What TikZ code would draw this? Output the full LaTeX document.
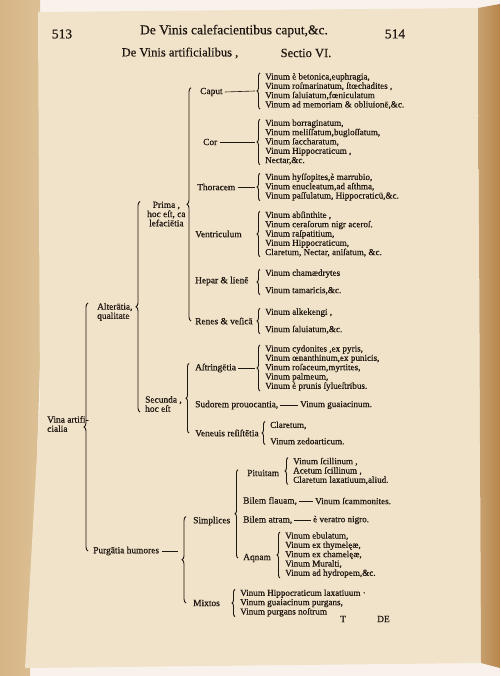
\documentclass[tikz,border=0pt]{standalone}
\usepackage{fontspec}
\setmainfont{Liberation Serif}[FakeBold=0.5]
\usetikzlibrary{decorations.pathreplacing, positioning}

\definecolor{paper}{HTML}{F1E3C9}
\definecolor{leaf}{HTML}{DCC196}
\definecolor{bookedge}{HTML}{B7864C}
\definecolor{ink}{HTML}{1E1610}

\begin{document}
\begin{tikzpicture}[x=1pt, y=-1pt,
  lab/.style={inner sep=0pt, anchor=west, text=ink, font=\fontsize{9.4}{9.2}\selectfont, align=left},
  items/.style={inner sep=0pt, anchor=west, text=ink, font=\fontsize{9.1}{9.3}\selectfont, align=left},
  head/.style={inner sep=0pt, text=ink, font=\fontsize{13.5}{14}\selectfont},
  brc/.style={draw=ink, line width=0.9pt, decorate, decoration={brace, amplitude=3pt}},
  bigbrc/.style={brc, decoration={brace, amplitude=4pt}},
  rule/.style={draw=ink, line width=0.6pt}
]
  % page, book edges
  \useasboundingbox (0,0) rectangle (500,676);
  \fill[white!90!brown] (0,0) rectangle (500,676);
  \shade[left color=leaf!80!brown, right color=leaf] (0,0) -- (40,0) -- (42,300) -- (30,676) -- (0,676) -- cycle;
  \fill[paper] (38,12) -- (478,8) -- (481,663) -- (25,668) -- (40,400) -- cycle;
  \shade[left color=bookedge!70!paper, right color=bookedge] (478,8) -- (500,4) -- (500,668) -- (481,663) -- cycle;

  % heading
  \node[head] (p513) at (62,34) {513};
  \node[head] (runhead) at (234,31) {De Vinis calefacientibus caput,\&c.};
  \node[head] (p514) at (395,34) {514};
  \node[head, font=\fontsize{12.5}{13}\selectfont] (title) at (180,53) {De Vinis artificialibus ,};
  \node[head, font=\fontsize{12.5}{13}\selectfont] (sectio) at (306,53) {Sectio VI.};

  % first divisions
  \node[lab] (vina) at (47,424) {Vina artifi-\\cialia};
  \node[lab] (alter) at (97,312) {Alterātia,\\qualitate};
  \node[lab] (purg) at (93,551) {Purgātia humores};

  \node[lab, align=center] (prima) at (147,214) {Prima ,\\hoc eſt, ca\\lefaciētia};
  \node[lab] (secunda) at (145,404) {Secunda ,\\hoc eſt};
  \node[lab] (simpl) at (193,521) {Simplices};
  \node[lab] (mixtos) at (193,603) {Mixtos};

  % calefacientia
  \node[lab] (caput) at (200,92) {Caput};
  \node[lab] (cor) at (203,142) {Cor};
  \node[lab] (thor) at (197,187) {Thoracem};
  \node[lab] (ventr) at (195,234) {Ventriculum};
  \node[lab] (hepar) at (195,281) {Hepar \& lienē};
  \node[lab] (renes) at (195,321) {Renes \& veſicā};

  \node[items] (caputL) at (265,91) {Vinum è betonica,euphragia,\\Vinum roſmarinatum, ſtœchadites ,\\Vinum ſaluiatum,fœniculatum\\Vinum ad memoriam \& obliuionē,\&c.};
  \node[items] (corL) at (265,142) {Vinum borraginatum,\\Vinum meliſſatum,bugloſſatum,\\Vinum ſaccharatum,\\Vinum Hippocraticum ,\\Nectar,\&c.};
  \node[items] (thorL) at (265,187) {Vinum hyſſopites,è marrubio,\\Vinum enucleatum,ad aſthma,\\Vinum paſſulatum, Hippocraticū,\&c.};
  \node[items] (ventrL) at (265,234) {Vinum abſinthite ,\\Vinum ceraſorum nigr aceroſ.\\Vinum raſpatitium,\\Vinum Hippocraticum,\\Claretum, Nectar, aniſatum, \&c.};
  \node[items] (hepL) at (265,282) {Vinum chamædrytes\\[8pt]Vinum tamaricis,\&c.};
  \node[items] (renesL) at (265,321) {Vinum alkekengi ,\\[8pt]Vinum ſaluiatum,\&c.};

  % secunda
  \node[lab] (astr) at (195,368) {Aſtringētia};
  \node[lab] (sudor) at (195,405) {Sudorem prouocantia,};
  \node[lab] (venen) at (195,433) {Veneuis reſiſtētia};

  \node[items] (astrL) at (265,368) {Vinum cydonites ,ex pyris,\\Vinum œnanthinum,ex punicis,\\Vinum roſaceum,myrtites,\\Vinum palmeum,\\Vinum è prunis ſylueſtribus.};
  \node[items] (sudorL) at (300,405) {Vinum guaiacinum.};
  \node[items] (venenL) at (270,433) {Claretum,\\[7pt]Vinum zedoarticum.};

  % purgantia
  \node[lab] (pituit) at (247,473) {Pituitam};
  \node[lab] (bflav) at (243,501) {Bilem flauam,};
  \node[lab] (batr) at (243,520) {Bilem atram,};
  \node[lab] (aqnam) at (243,558) {Aqnam};

  \node[items] (pituitL) at (293,471) {Vinum ſcillinum ,\\Acetum ſcillinum ,\\Claretum laxatiuum,aliud.};
  \node[items] (bflavL) at (315,501) {Vinum ſcammonites.};
  \node[items] (batrL) at (313,520) {è veratro nigro.};
  \node[items] (aqnamL) at (285,555) {Vinum ebulatum,\\Vinum ex thymelęæ,\\Vinum ex chamelęæ,\\Vinum Muralti,\\Vinum ad hydropem,\&c.};
  \node[items] (mixtL) at (240,603) {Vinum Hippocraticum laxatiuum ·\\Vinum guaiacinum purgans,\\Vinum purgans noſtrum};

  \node[lab] (sig) at (340,619) {T};
  \node[lab] (catch) at (377,619) {DE};

  % braces
  \draw[bigbrc] ([xshift=-5pt]purg.west) -- ([xshift=-5pt]purg.west |- alter.north);
  \draw[bigbrc] ([xshift=-5pt]secunda.south west) -- ([xshift=-5pt]secunda.west |- prima.north);
  \draw[bigbrc] ([xshift=-4pt]renes.west) -- ([xshift=-4pt]renes.west |- caput.north);
  \draw[brc] ([xshift=-6pt]venen.west) -- ([xshift=-6pt]venen.west |- astr.north);
  \draw[bigbrc] ([xshift=-7pt]mixtos.west) -- ([xshift=-7pt]mixtos.west |- simpl.north);
  \draw[brc] ([xshift=-5pt]aqnam.west) -- ([xshift=-5pt]aqnam.west |- pituit.north);

  \foreach \l in {caputL, corL, thorL, ventrL, hepL, renesL, astrL, pituitL, aqnamL, mixtL}
    \draw[brc] ([xshift=-5pt]\l.south west) -- ([xshift=-5pt]\l.north west);
  \draw[brc] ([xshift=-5pt]venenL.south west) -- ([xshift=-5pt]venenL.north west);

  % rules
  \foreach \a/\b in {caput/caputL, cor/corL, thor/thorL, astr/astrL}
    \draw[rule] ([xshift=2pt]\a.east) -- ([xshift=-10pt]\b.west);
  \foreach \a/\b in {sudor/sudorL, bflav/bflavL, batr/batrL}
    \draw[rule] ([xshift=2pt]\a.east) -- ([xshift=-2pt]\b.west);
  \draw[rule] ([xshift=3pt]purg.east) -- ([xshift=-15pt]mixtos.west |- purg.east);
\end{tikzpicture}
\end{document}
